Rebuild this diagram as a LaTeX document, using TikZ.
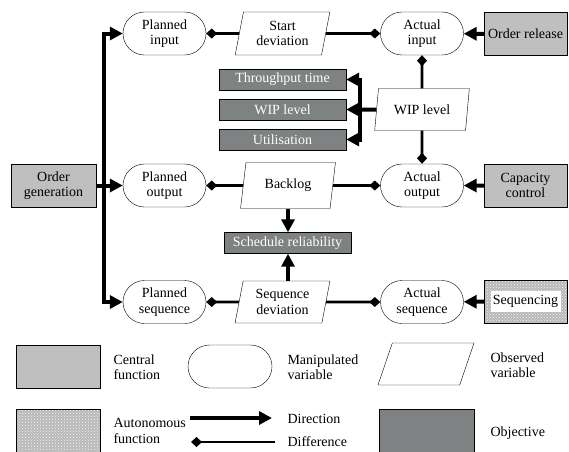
\documentclass[tikz,border=0pt]{standalone}
\usepackage{fontspec}
\setmainfont{Liberation Serif}
\usetikzlibrary{shapes.geometric,shapes.misc,arrows.meta,patterns}
\definecolor{centgray}{RGB}{191,191,191}
\definecolor{objgray}{RGB}{127,130,130}

\begin{document}
\begin{tikzpicture}[x=1pt,y=-1pt,
    font=\fontsize{14}{15.5}\selectfont,
    func/.style={draw,fill=centgray,minimum width=83pt,minimum height=43pt,align=center,inner sep=1pt},
    manip/.style={draw,rounded rectangle,minimum width=85pt,minimum height=43pt,align=center,inner sep=1pt},
    obsv/.style={draw,trapezium,trapezium left angle=78,trapezium right angle=102,trapezium stretches=true,minimum width=95pt,minimum height=43pt,align=center,inner sep=1pt},
    objbox/.style={draw,fill=objgray,text=white,minimum width=127pt,minimum height=21pt,inner sep=1pt},
    auton/.style={draw,preaction={fill=gray!55},pattern=crosshatch dots,pattern color=gray!8,minimum width=83pt,minimum height=43pt},
    dirn/.style={line width=4pt,-{Triangle[length=13pt,width=13pt]}},
    diffc/.style={line width=2.8pt,-{Diamond[length=11pt,width=10pt]}}]
      \useasboundingbox (0,0) rectangle (569,451);

      \node[manip] (pin) at (164.5,33.5) {Planned\\input};
      \node[obsv] (sdev) at (282.5,33.5) {Start\\deviation};
      \node[manip] (ain) at (422,33.5) {Actual\\input};
      \node[func] (orel) at (525.5,34) {Order release};

      \node[objbox] (tpt) at (282.5,79.5) {Throughput time};
      \node[objbox] (wipobj) at (282.5,109.5) {WIP level};
      \node[objbox] (util) at (282.5,139.5) {Utilisation};
      \node[obsv,minimum height=42pt] (wip) at (422,109.5) {WIP level};

      \node[func,minimum width=85pt] (ogen) at (53.5,185.5) {Order\\generation};
      \node[manip] (pout) at (164.5,185.5) {Planned\\output};
      \node[obsv,minimum height=46pt] (back) at (288,185.5) {Backlog};
      \node[manip] (aout) at (422,185.5) {Actual\\output};
      \node[func] (capc) at (525.5,185.5) {Capacity\\control};

      \node[objbox] (srel) at (287.5,243) {Schedule reliability};

      \node[manip] (pseq) at (164.5,302) {Planned\\sequence};
      \node[obsv,minimum height=42pt] (seqd) at (282.5,302) {Sequence\\deviation};
      \node[manip] (aseq) at (422,302) {Actual\\sequence};
      \node[auton] (seqn) at (525.5,301.5) {};
      \node[fill=white,minimum width=70pt,minimum height=21pt,inner sep=1pt] (seqntext) at (seqn) {Sequencing};

      \coordinate (bus) at (104,185.5);
      \draw[dirn] (ogen) -- (pout);
      \draw[dirn] (bus) |- (pin.west);
      \draw[dirn] (bus) |- (pseq.west);

      \draw[diffc] (sdev) -- (pin);
      \draw[diffc] (sdev) -- (ain);
      \draw[dirn] (orel) -- (ain);
      \draw[diffc] (wip) -- (ain);
      \draw[diffc] (wip) -- (aout);

      \coordinate (wbus) at (360,109.5);
      \draw[line width=4pt] (wip.west) -- (wbus);
      \draw[dirn] (wbus) |- (tpt.east);
      \draw[dirn] (wbus) -- (wipobj.east);
      \draw[dirn] (wbus) |- (util.east);

      \draw[diffc] (back) -- (pout);
      \draw[diffc] (back) -- (aout);
      \draw[dirn] (capc) -- (aout);
      \draw[dirn] (back.south) -- (back.south |- srel.north);
      \draw[dirn] (back.south |- seqd.north) -- (back.south |- srel.south);

      \draw[diffc] (seqd) -- (pseq);
      \draw[diffc] (seqd) -- (aseq);
      \draw[dirn] (seqn) -- (aseq);

      % legend
      \node[func,minimum width=84pt] (lcen) at (58,366.5) {};
      \node[anchor=west,align=left] (lcentxt) at (110,367) {Central\\function};
      \node[manip,minimum width=86pt] (lman) at (230,366.5) {};
      \node[anchor=west,align=left] (lmantxt) at (284,367) {Manipulated\\variable};
      \node[obsv,minimum width=96pt,minimum height=42pt] (lobs) at (426,364) {};
      \node[anchor=west,align=left] (lobstxt) at (487,365) {Observed\\variable};

      \node[auton,minimum width=84pt,minimum height=52pt,anchor=north] (laut) at (58,409) {};
      \node[anchor=west,align=left] (laut txt) at (110,431) {Autonomous\\function};
      \coordinate (ldira) at (190,418);
      \coordinate (ldirb) at (272,418);
      \draw[dirn] (ldira) -- (ldirb);
      \node[anchor=west] (ldirtxt) at (284,419) {Direction};
      \coordinate (ldifa) at (275,442);
      \coordinate (ldifb) at (191,442);
      \draw[diffc] (ldifa) -- (ldifb);
      \node[anchor=west] (ldiftxt) at (284,442) {Difference};
      \node[draw,fill=objgray,minimum width=95pt,minimum height=52pt,anchor=north] (lobj) at (426.5,409) {};
      \node[anchor=west] (lobjtxt) at (487,433) {Objective};
    \end{tikzpicture}
\end{document}
